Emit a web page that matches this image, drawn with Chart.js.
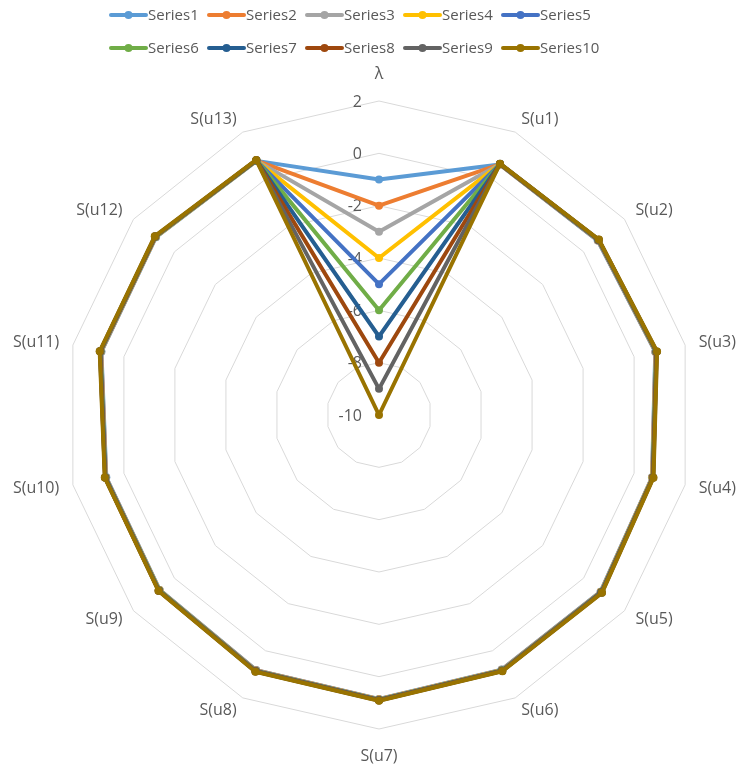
<!DOCTYPE html>
<html>
<head>
<meta charset="utf-8">
<script src="https://cdn.jsdelivr.net/npm/chart.js@4.4.1/dist/chart.umd.min.js"></script>
<style>
  html, body { margin: 0; padding: 0; background: #ffffff; }
  #wrap { width: 739px; height: 770px; }
</style>
</head>
<body>
<div id="wrap"><canvas id="c" width="739" height="770"></canvas></div>
<script>
// Axis categories, clockwise from the top
const axisLabels = ['λ', 'S(u1)', 'S(u2)', 'S(u3)', 'S(u4)', 'S(u5)', 'S(u6)', 'S(u7)',
                    'S(u8)', 'S(u9)', 'S(u10)', 'S(u11)', 'S(u12)', 'S(u13)'];

const seriesNames = ['Series1', 'Series2', 'Series3', 'Series4', 'Series5',
                     'Series6', 'Series7', 'Series8', 'Series9', 'Series10'];

const seriesColors = ['#5B9BD5', '#ED7D31', '#A5A5A5', '#FFC000', '#4472C4',
                      '#70AD47', '#255E91', '#9E480E', '#636363', '#997300'];

// Values per series: λ first, then S(u1) … S(u13)
const series1  = [-1,  0.63, 0.69, 0.83, 0.70, 0.83, 0.80, 0.85, 0.82, 0.72, 0.69, 0.88, 0.90, 0.78];
const series2  = [-2,  0.63, 0.70, 0.84, 0.71, 0.84, 0.81, 0.86, 0.83, 0.73, 0.70, 0.89, 0.91, 0.79];
const series3  = [-3,  0.64, 0.71, 0.85, 0.72, 0.85, 0.82, 0.87, 0.84, 0.74, 0.71, 0.90, 0.92, 0.79];
const series4  = [-4,  0.64, 0.72, 0.86, 0.72, 0.85, 0.83, 0.87, 0.85, 0.74, 0.72, 0.91, 0.92, 0.79];
const series5  = [-5,  0.64, 0.72, 0.86, 0.73, 0.86, 0.83, 0.88, 0.85, 0.75, 0.72, 0.91, 0.93, 0.80];
const series6  = [-6,  0.65, 0.73, 0.87, 0.73, 0.87, 0.84, 0.89, 0.86, 0.75, 0.73, 0.92, 0.93, 0.80];
const series7  = [-7,  0.65, 0.73, 0.88, 0.74, 0.87, 0.85, 0.89, 0.87, 0.76, 0.73, 0.93, 0.94, 0.80];
const series8  = [-8,  0.65, 0.74, 0.88, 0.74, 0.88, 0.85, 0.90, 0.87, 0.77, 0.74, 0.93, 0.94, 0.81];
const series9  = [-9,  0.66, 0.74, 0.89, 0.75, 0.89, 0.86, 0.91, 0.88, 0.77, 0.74, 0.94, 0.95, 0.81];
const series10 = [-10, 0.66, 0.75, 0.90, 0.76, 0.90, 0.87, 0.92, 0.89, 0.78, 0.75, 0.95, 0.96, 0.82];

const seriesValues = [series1, series2, series3, series4, series5,
                      series6, series7, series8, series9, series10];

// Radial axis range
const axisMin = -10;
const axisMax = 2;
const axisStep = 2;

const textColor = '#595959';
const fontFamily = '"Open Sans", "DejaVu Sans", sans-serif';

const datasets = seriesValues.map((vals, i) => ({
  label: seriesNames[i],
  data: vals,
  borderColor: seriesColors[i],
  backgroundColor: seriesColors[i],
  pointBackgroundColor: seriesColors[i],
  pointBorderColor: seriesColors[i],
  borderWidth: 4,
  pointRadius: 4,
  pointBorderWidth: 0,
  borderJoinStyle: 'round',
  fill: false,
  tension: 0,
  order: seriesValues.length - i   // later series are painted on top
}));

// Value labels beside the top axis, and the category labels round the rim
const radarText = {
  id: 'radarText',
  beforeDatasetsDraw(chart) {
    const s = chart.scales.r;
    const ctx = chart.ctx;
    ctx.save();
    ctx.fillStyle = textColor;
    ctx.font = '16px ' + fontFamily;
    ctx.textAlign = 'right';
    ctx.textBaseline = 'middle';
    s.ticks.forEach(t => {
      const d = s.getDistanceFromCenterForValue(t.value);
      ctx.fillText(t.label, s.xCenter - 17, s.yCenter - d + 1);
    });

    chart.data.labels.forEach((lab, i) => {
      const a = s.getIndexAngle(i);
      const sn = Math.sin(a), cs = Math.cos(a);
      const p = s.getPointPosition(i, s.drawingArea + 14);
      let x = p.x, y = p.y;
      if (sn > 0.05) ctx.textAlign = 'left';
      else if (sn < -0.05) ctx.textAlign = 'right';
      else { ctx.textAlign = 'center'; y -= cs * 13; }
      ctx.fillText(lab, x, y);
    });
    ctx.restore();
  },
  afterDraw(chart) {
    const ctx = chart.ctx;
    const perRow = 5, x0 = 110, stride = 98, rowY = [15, 48];
    ctx.save();
    ctx.font = '15px ' + fontFamily;
    ctx.textBaseline = 'middle';
    ctx.textAlign = 'left';
    chart.data.datasets.forEach((ds, i) => {
      const x = x0 + (i % perRow) * stride;
      const y = rowY[Math.floor(i / perRow)];
      ctx.strokeStyle = ds.borderColor;
      ctx.lineWidth = 4;
      ctx.lineCap = 'round';
      ctx.beginPath();
      ctx.moveTo(x + 1, y);
      ctx.lineTo(x + 36, y);
      ctx.stroke();
      ctx.fillStyle = ds.borderColor;
      ctx.beginPath();
      ctx.arc(x + 18.5, y, 4, 0, Math.PI * 2);
      ctx.fill();
      ctx.fillStyle = textColor;
      ctx.fillText(ds.label, x + 38, y + 1);
    });
    ctx.restore();
  }
};

new Chart(document.getElementById('c'), {
  type: 'radar',
  data: { labels: axisLabels, datasets: datasets },
  options: {
    responsive: false,
    devicePixelRatio: 1,
    animation: false,
    layout: { padding: { left: 65, right: 46, top: 101, bottom: 41 } },
    plugins: { legend: { display: false }, tooltip: { enabled: false } },
    elements: { line: { borderWidth: 4 } },
    scales: {
      r: {
        min: axisMin,
        max: axisMax,
        ticks: { stepSize: axisStep, display: false },
        grid: { color: '#D9D9D9', lineWidth: 1, circular: false },
        angleLines: { display: false },
        pointLabels: { display: false }
      }
    }
  },
  plugins: [radarText]
});
</script>
</body>
</html>
